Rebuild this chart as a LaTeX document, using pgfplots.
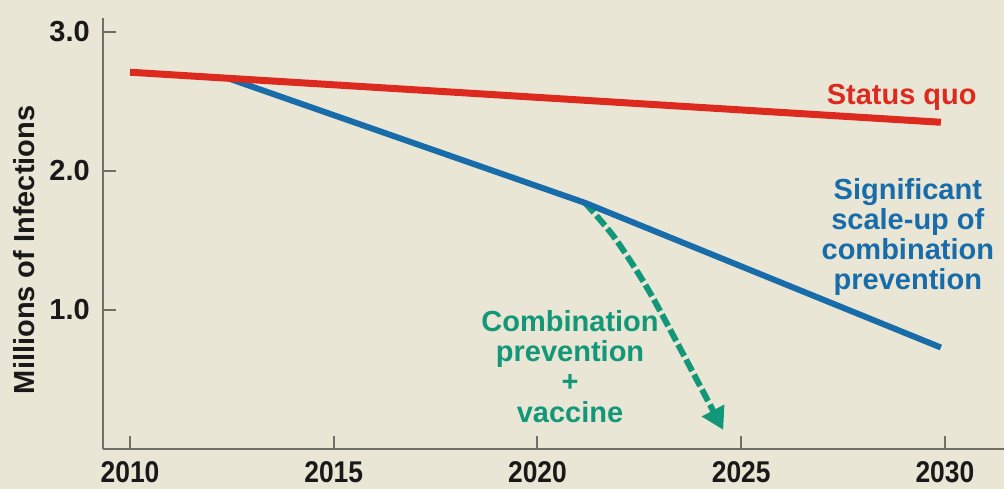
\documentclass[border=0pt]{standalone}
\usepackage{pgfplots}
\pgfplotsset{compat=1.18}
\usepackage{fontspec}
\setmainfont{Liberation Sans}
\usetikzlibrary{arrows.meta}
\definecolor{bgc}{RGB}{234,230,214}
\definecolor{axisgray}{RGB}{112,110,104}
\definecolor{sqred}{RGB}{221,42,30}
\definecolor{scblue}{RGB}{24,108,170}
\definecolor{vacgreen}{RGB}{18,152,120}
\begin{document}
\begin{tikzpicture}
\useasboundingbox (0,0) rectangle (1004pt,489pt);
\fill[bgc] (0,0) rectangle (1004pt,489pt);
\begin{axis}[
  at={(103pt,40pt)}, anchor=south west,
  scale only axis, width=901pt, height=431pt,
  xmin=2009.337, xmax=2031.45, ymin=0, ymax=3.1,
  axis lines=left,
  axis line style={-, draw=axisgray, line width=2pt},
  xtick={2010,2015,...,2030}, ytick={1,2,3},
  tick align=inside, major tick length=13pt,
  major tick style={draw=axisgray, line width=2pt},
  /pgf/number format/assume math mode=true,
  tick label style={text=black!90},
  xticklabel={\scalebox{0.88}[1]{\pgfmathprintnumber[1000 sep={}]{\tick}}},
  xticklabel style={font=\fontsize{30}{30}\selectfont\bfseries, anchor=north, inner sep=0pt, yshift=-12pt},
  yticklabel style={font=\fontsize{29}{29}\selectfont\bfseries,
    /pgf/number format/fixed, /pgf/number format/zerofill,
    /pgf/number format/precision=1, anchor=east, inner sep=0pt, xshift=-13pt},
  ylabel={Millions of Infections},
  ylabel style={at={(axis description cs:-0.0877,0.462)}, anchor=center,
    font=\fontsize{29}{29}\selectfont\bfseries, text=black!90},
  clip=false,
]
% combination prevention + vaccine
\addplot[vacgreen, line width=6pt, dash pattern=on 13pt off 4pt, smooth,
  -{Triangle[length=22pt,width=24pt]}] coordinates {
  (2021.17,1.77) (2021.88,1.525) (2022.68,1.165) (2023.49,0.73) (2024.56,0.137)
};
% significant scale-up
\addplot[scblue, line width=6pt] coordinates {
  (2012.4,2.667) (2021.17,1.77) (2029.9,0.73)
};
% status quo
\addplot[sqred, line width=7pt] coordinates {
  (2010,2.71) (2029.9,2.35)
};

\begin{scope}[every node/.style={font=\fontsize{29}{29}\selectfont\bfseries, anchor=base, inner sep=0pt}]
\node[text=sqred] at (axis cs:2028.94,2.475) {Status quo};
\node[text=scblue] at (axis cs:2029.09,1.791) {Significant};
\node[text=scblue] at (axis cs:2029.09,1.576) {scale-up of};
\node[text=scblue] at (axis cs:2029.09,1.360) {combination};
\node[text=scblue] at (axis cs:2029.09,1.144) {prevention};
\node[text=vacgreen] at (axis cs:2020.80,0.842) {Combination};
\node[text=vacgreen] at (axis cs:2020.80,0.626) {prevention};
\node[text=vacgreen] at (axis cs:2020.80,0.410) {+};
\node[text=vacgreen] at (axis cs:2020.80,0.194) {vaccine};
\end{scope}
\end{axis}
\end{tikzpicture}
\end{document}
